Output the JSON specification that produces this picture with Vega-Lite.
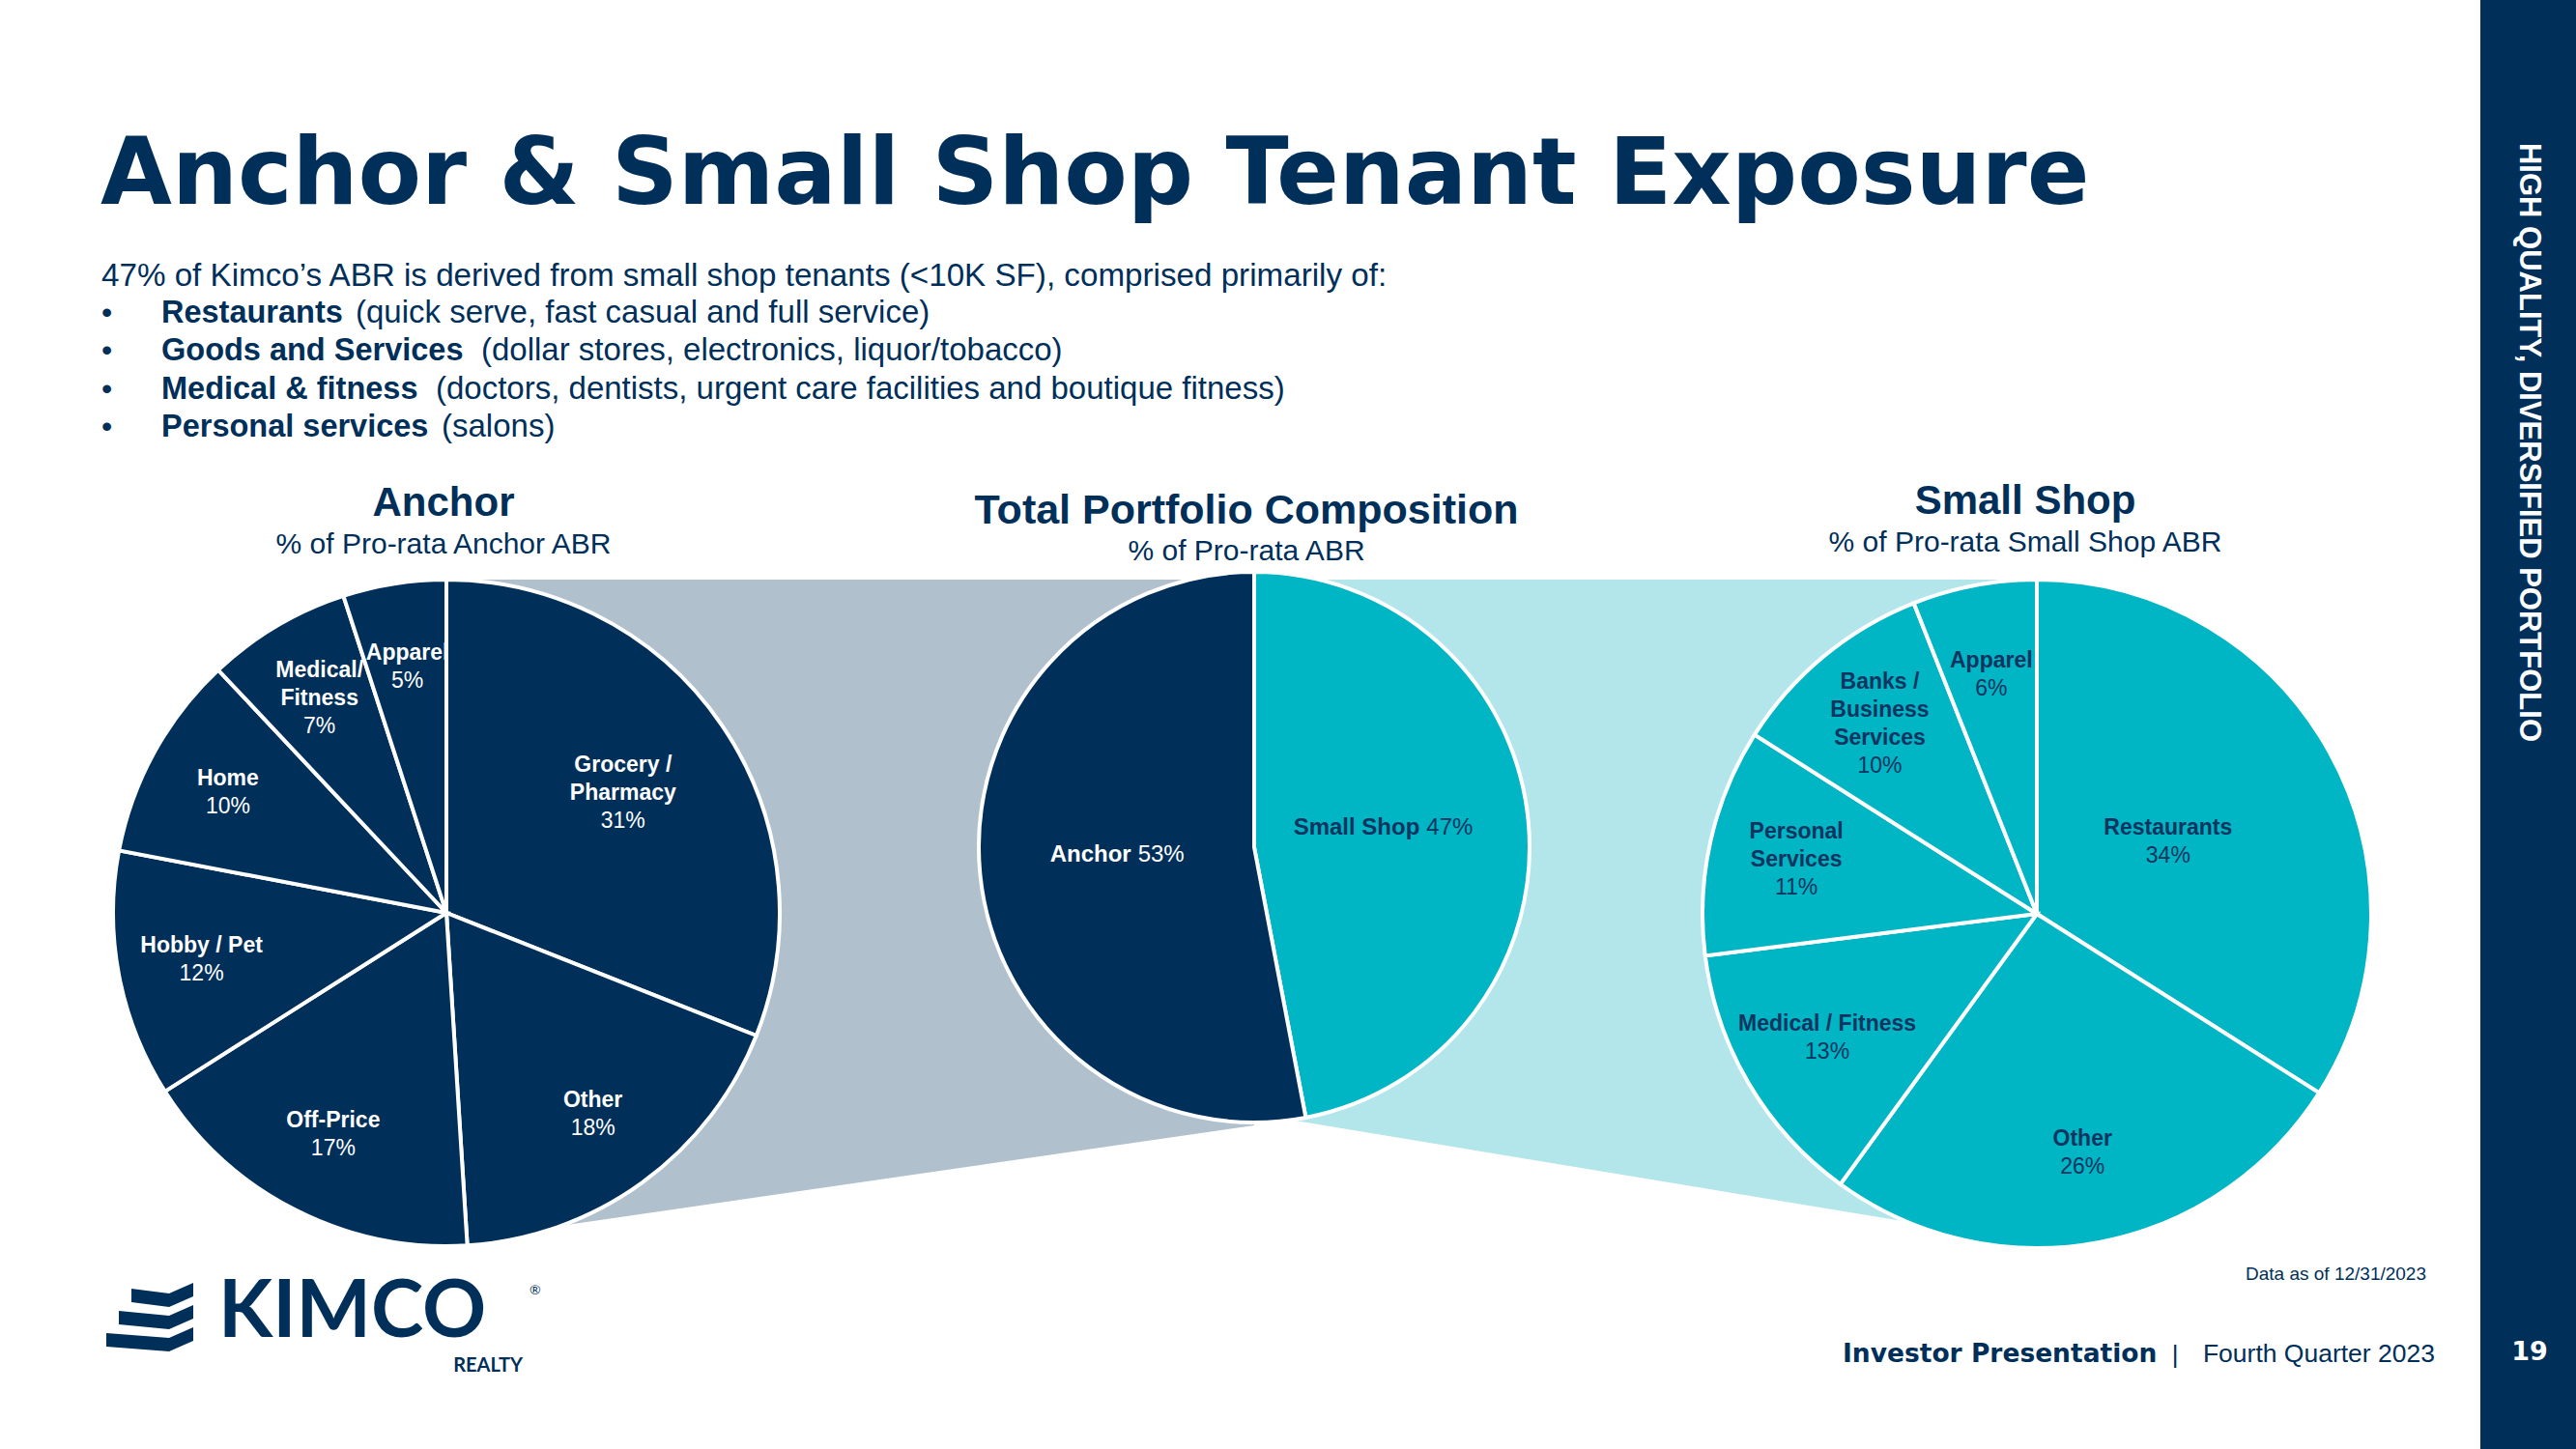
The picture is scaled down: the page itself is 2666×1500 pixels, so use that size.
{
  "$schema": "https://vega.github.io/schema/vega-lite/v6.json",
  "width": 2666,
  "height": 1500,
  "autosize": {"type": "fit", "contains": "padding"},
  "padding": 0,
  "background": "white",
  "config": {"view": {"stroke": null}, "axis": {"disable": true}},
  "datasets": {
    "anchor": [
      {"name": "Grocery /\nPharmacy", "v": 0.31, "rank": 1},
      {"name": "Other", "v": 0.18, "rank": 2},
      {"name": "Off-Price", "v": 0.17, "rank": 3},
      {"name": "Hobby / Pet", "v": 0.12, "rank": 4},
      {"name": "Home", "v": 0.10, "rank": 5},
      {"name": "Medical/\nFitness", "v": 0.07, "rank": 6},
      {"name": "Apparel", "v": 0.05, "rank": 7}
    ],
    "total": [
      {"name": "Small Shop", "v": 0.47, "rank": 1},
      {"name": "Anchor", "v": 0.53, "rank": 2}
    ],
    "small": [
      {"name": "Restaurants", "v": 0.34, "rank": 1},
      {"name": "Other", "v": 0.26, "rank": 2},
      {"name": "Medical / Fitness", "v": 0.13, "rank": 3},
      {"name": "Personal\nServices", "v": 0.11, "rank": 4},
      {"name": "Banks /\nBusiness\nServices", "v": 0.10, "rank": 5},
      {"name": "Apparel", "v": 0.06, "rank": 6}
    ]
  },
  "data": {"values": [{}]},
  "layer": [
    {
      "mark": {"type": "rect", "color": "#002F5A"},
      "encoding": {
        "x": {"datum": 12.835, "type": "quantitative", "scale": {"domain": [0, 13.33], "nice": false, "zero": false}},
        "x2": {"datum": 13.33},
        "y": {"datum": 0, "type": "quantitative", "scale": {"domain": [0, 7.5], "nice": false, "zero": false, "reverse": true}},
        "y2": {"datum": 7.5}
      }
    },
    {
      "mark": {"type": "point", "shape": "M -1 -0.8206 L 1 -0.8206 L 1 0.5311 L -1 0.8206 Z", "size": 698896, "filled": true, "opacity": 1, "color": "#B0C0CC", "strokeWidth": 0},
      "encoding": {
        "x": {"datum": 4.4, "type": "quantitative", "scale": {"domain": [0, 13.33], "nice": false, "zero": false}},
        "y": {"datum": 4.715, "type": "quantitative", "scale": {"domain": [0, 7.5], "nice": false, "zero": false, "reverse": true}}
      }
    },
    {
      "mark": {"type": "point", "shape": "M -1 -0.8481 L 1 -0.8481 L 1 0.8481 L -1 0.5173 Z", "size": 656100, "filled": true, "opacity": 1, "color": "#B2E6EB", "strokeWidth": 0},
      "encoding": {
        "x": {"datum": 8.515, "type": "quantitative", "scale": {"domain": [0, 13.33], "nice": false, "zero": false}},
        "y": {"datum": 4.7175, "type": "quantitative", "scale": {"domain": [0, 7.5], "nice": false, "zero": false, "reverse": true}}
      }
    },
    {
      "data": {"name": "anchor"},
      "mark": {"type": "arc", "outerRadius": 345, "x": {"expr": "scale('x', 2.31)"}, "y": {"expr": "scale('y', 4.725)"}, "fill": "#002F5A", "stroke": "white", "strokeWidth": 4},
      "encoding": {
        "theta": {"field": "v", "type": "quantitative", "stack": true},
        "order": {"field": "rank", "type": "quantitative"},
        "detail": {"field": "name"}
      }
    },
    {
      "data": {"name": "total"},
      "mark": {"type": "arc", "outerRadius": 285, "x": {"expr": "scale('x', 6.49)"}, "y": {"expr": "scale('y', 4.385)"}, "stroke": "white", "strokeWidth": 4},
      "encoding": {
        "theta": {"field": "v", "type": "quantitative", "stack": true},
        "order": {"field": "rank", "type": "quantitative"},
        "detail": {"field": "name"},
        "color": {"condition": {"test": "datum.name == 'Anchor'", "value": "#002F5A"}, "value": "#00B5C4"}
      }
    },
    {
      "data": {"name": "small"},
      "mark": {"type": "arc", "outerRadius": 346, "x": {"expr": "scale('x', 10.54)"}, "y": {"expr": "scale('y', 4.73)"}, "fill": "#00B5C4", "stroke": "white", "strokeWidth": 4},
      "encoding": {
        "theta": {"field": "v", "type": "quantitative", "stack": true},
        "order": {"field": "rank", "type": "quantitative"},
        "detail": {"field": "name"}
      }
    },
    {
      "data": {"name": "anchor"},
      "mark": {"type": "text", "x": {"expr": "scale('x', 2.31)"}, "y": {"expr": "scale('y', 4.725)"}, "radius": 258, "font": "Liberation Sans", "fontSize": 23, "fontWeight": "bold", "color": "white", "lineBreak": "\n", "lineHeight": 29, "align": "center", "baseline": "middle", "dy": -14.5},
      "encoding": {
        "theta": {"field": "v", "type": "quantitative", "stack": true},
        "order": {"field": "rank", "type": "quantitative"},
        "detail": {"field": "name"},
        "text": {"condition": {"test": "indexof(datum.name, '\\n') < 0 && datum.v <= 0.3", "field": "name", "type": "nominal"}, "value": ""}
      }
    },
    {
      "data": {"name": "anchor"},
      "mark": {"type": "text", "x": {"expr": "scale('x', 2.31)"}, "y": {"expr": "scale('y', 4.725)"}, "radius": 258, "font": "Liberation Sans", "fontSize": 23, "fontWeight": "bold", "color": "white", "lineBreak": "\n", "lineHeight": 29, "align": "center", "baseline": "middle", "dy": -29},
      "encoding": {
        "theta": {"field": "v", "type": "quantitative", "stack": true},
        "order": {"field": "rank", "type": "quantitative"},
        "detail": {"field": "name"},
        "text": {"condition": {"test": "indexof(datum.name, '\\n') >= 0 && datum.v <= 0.3", "field": "name", "type": "nominal"}, "value": ""}
      }
    },
    {
      "data": {"name": "anchor"},
      "mark": {"type": "text", "x": {"expr": "scale('x', 2.31)"}, "y": {"expr": "scale('y', 4.725)"}, "radius": 221, "font": "Liberation Sans", "fontSize": 23, "fontWeight": "bold", "color": "white", "lineBreak": "\n", "lineHeight": 29, "align": "center", "baseline": "middle", "dy": -29},
      "encoding": {
        "theta": {"field": "v", "type": "quantitative", "stack": true},
        "order": {"field": "rank", "type": "quantitative"},
        "detail": {"field": "name"},
        "text": {"condition": {"test": "indexof(datum.name, '\\n') >= 0 && datum.v > 0.3", "field": "name", "type": "nominal"}, "value": ""}
      }
    },
    {
      "data": {"name": "anchor"},
      "mark": {"type": "text", "x": {"expr": "scale('x', 2.31)"}, "y": {"expr": "scale('y', 4.725)"}, "radius": 258, "font": "Liberation Sans", "fontSize": 23, "color": "white", "align": "center", "baseline": "middle", "dy": 14.5},
      "encoding": {
        "theta": {"field": "v", "type": "quantitative", "stack": true},
        "order": {"field": "rank", "type": "quantitative"},
        "detail": {"field": "name"},
        "text": {"condition": {"test": "indexof(datum.name, '\\n') < 0 && datum.v <= 0.3", "field": "v", "type": "quantitative", "format": ".0%"}, "value": ""}
      }
    },
    {
      "data": {"name": "anchor"},
      "mark": {"type": "text", "x": {"expr": "scale('x', 2.31)"}, "y": {"expr": "scale('y', 4.725)"}, "radius": 258, "font": "Liberation Sans", "fontSize": 23, "color": "white", "align": "center", "baseline": "middle", "dy": 29},
      "encoding": {
        "theta": {"field": "v", "type": "quantitative", "stack": true},
        "order": {"field": "rank", "type": "quantitative"},
        "detail": {"field": "name"},
        "text": {"condition": {"test": "indexof(datum.name, '\\n') >= 0 && datum.v <= 0.3", "field": "v", "type": "quantitative", "format": ".0%"}, "value": ""}
      }
    },
    {
      "data": {"name": "anchor"},
      "mark": {"type": "text", "x": {"expr": "scale('x', 2.31)"}, "y": {"expr": "scale('y', 4.725)"}, "radius": 221, "font": "Liberation Sans", "fontSize": 23, "color": "white", "align": "center", "baseline": "middle", "dy": 29},
      "encoding": {
        "theta": {"field": "v", "type": "quantitative", "stack": true},
        "order": {"field": "rank", "type": "quantitative"},
        "detail": {"field": "name"},
        "text": {"condition": {"test": "indexof(datum.name, '\\n') >= 0 && datum.v > 0.3", "field": "v", "type": "quantitative", "format": ".0%"}, "value": ""}
      }
    },
    {
      "data": {"name": "small"},
      "mark": {"type": "text", "x": {"expr": "scale('x', 10.54)"}, "y": {"expr": "scale('y', 4.73)"}, "radius": 252, "font": "Liberation Sans", "fontSize": 23, "fontWeight": "bold", "color": "#0F3460", "lineBreak": "\n", "lineHeight": 29, "align": "center", "baseline": "middle", "dy": -14.5},
      "encoding": {
        "theta": {"field": "v", "type": "quantitative", "stack": true},
        "order": {"field": "rank", "type": "quantitative"},
        "detail": {"field": "name"},
        "text": {"condition": {"test": "indexof(datum.name, '\\n') < 0 && datum.v <= 0.3", "field": "name", "type": "nominal"}, "value": ""}
      }
    },
    {
      "data": {"name": "small"},
      "mark": {"type": "text", "x": {"expr": "scale('x', 10.54)"}, "y": {"expr": "scale('y', 4.73)"}, "radius": 155, "font": "Liberation Sans", "fontSize": 23, "fontWeight": "bold", "color": "#0F3460", "lineBreak": "\n", "lineHeight": 29, "align": "center", "baseline": "middle", "dy": -14.5},
      "encoding": {
        "theta": {"field": "v", "type": "quantitative", "stack": true},
        "order": {"field": "rank", "type": "quantitative"},
        "detail": {"field": "name"},
        "text": {"condition": {"test": "indexof(datum.name, '\\n') < 0 && datum.v > 0.3", "field": "name", "type": "nominal"}, "value": ""}
      }
    },
    {
      "data": {"name": "small"},
      "mark": {"type": "text", "x": {"expr": "scale('x', 10.54)"}, "y": {"expr": "scale('y', 4.73)"}, "radius": 255, "font": "Liberation Sans", "fontSize": 23, "fontWeight": "bold", "color": "#0F3460", "lineBreak": "\n", "lineHeight": 29, "align": "center", "baseline": "middle", "dy": -29},
      "encoding": {
        "theta": {"field": "v", "type": "quantitative", "stack": true},
        "order": {"field": "rank", "type": "quantitative"},
        "detail": {"field": "name"},
        "text": {"condition": {"test": "indexof(datum.name, '\\n') >= 0 && indexof(datum.name, '\\n') == lastindexof(datum.name, '\\n')", "field": "name", "type": "nominal"}, "value": ""}
      }
    },
    {
      "data": {"name": "small"},
      "mark": {"type": "text", "x": {"expr": "scale('x', 10.54)"}, "y": {"expr": "scale('y', 4.73)"}, "radius": 255, "font": "Liberation Sans", "fontSize": 23, "fontWeight": "bold", "color": "#0F3460", "lineBreak": "\n", "lineHeight": 29, "align": "center", "baseline": "middle", "dy": -43.5},
      "encoding": {
        "theta": {"field": "v", "type": "quantitative", "stack": true},
        "order": {"field": "rank", "type": "quantitative"},
        "detail": {"field": "name"},
        "text": {"condition": {"test": "indexof(datum.name, '\\n') != lastindexof(datum.name, '\\n')", "field": "name", "type": "nominal"}, "value": ""}
      }
    },
    {
      "data": {"name": "small"},
      "mark": {"type": "text", "x": {"expr": "scale('x', 10.54)"}, "y": {"expr": "scale('y', 4.73)"}, "radius": 252, "font": "Liberation Sans", "fontSize": 23, "color": "#0F3460", "align": "center", "baseline": "middle", "dy": 14.5},
      "encoding": {
        "theta": {"field": "v", "type": "quantitative", "stack": true},
        "order": {"field": "rank", "type": "quantitative"},
        "detail": {"field": "name"},
        "text": {"condition": {"test": "indexof(datum.name, '\\n') < 0 && datum.v <= 0.3", "field": "v", "type": "quantitative", "format": ".0%"}, "value": ""}
      }
    },
    {
      "data": {"name": "small"},
      "mark": {"type": "text", "x": {"expr": "scale('x', 10.54)"}, "y": {"expr": "scale('y', 4.73)"}, "radius": 155, "font": "Liberation Sans", "fontSize": 23, "color": "#0F3460", "align": "center", "baseline": "middle", "dy": 14.5},
      "encoding": {
        "theta": {"field": "v", "type": "quantitative", "stack": true},
        "order": {"field": "rank", "type": "quantitative"},
        "detail": {"field": "name"},
        "text": {"condition": {"test": "indexof(datum.name, '\\n') < 0 && datum.v > 0.3", "field": "v", "type": "quantitative", "format": ".0%"}, "value": ""}
      }
    },
    {
      "data": {"name": "small"},
      "mark": {"type": "text", "x": {"expr": "scale('x', 10.54)"}, "y": {"expr": "scale('y', 4.73)"}, "radius": 255, "font": "Liberation Sans", "fontSize": 23, "color": "#0F3460", "align": "center", "baseline": "middle", "dy": 29},
      "encoding": {
        "theta": {"field": "v", "type": "quantitative", "stack": true},
        "order": {"field": "rank", "type": "quantitative"},
        "detail": {"field": "name"},
        "text": {"condition": {"test": "indexof(datum.name, '\\n') >= 0 && indexof(datum.name, '\\n') == lastindexof(datum.name, '\\n')", "field": "v", "type": "quantitative", "format": ".0%"}, "value": ""}
      }
    },
    {
      "data": {"name": "small"},
      "mark": {"type": "text", "x": {"expr": "scale('x', 10.54)"}, "y": {"expr": "scale('y', 4.73)"}, "radius": 255, "font": "Liberation Sans", "fontSize": 23, "color": "#0F3460", "align": "center", "baseline": "middle", "dy": 43.5},
      "encoding": {
        "theta": {"field": "v", "type": "quantitative", "stack": true},
        "order": {"field": "rank", "type": "quantitative"},
        "detail": {"field": "name"},
        "text": {"condition": {"test": "indexof(datum.name, '\\n') != lastindexof(datum.name, '\\n')", "field": "v", "type": "quantitative", "format": ".0%"}, "value": ""}
      }
    },
    {
      "data": {"name": "total"},
      "mark": {"type": "text", "x": {"expr": "scale('x', 6.49)"}, "y": {"expr": "scale('y', 4.385)"}, "radius": 150, "font": "Liberation Sans", "fontSize": 24, "fontWeight": "bold", "align": "right", "baseline": "middle", "dx": 22, "dy": -6},
      "encoding": {
        "theta": {"field": "v", "type": "quantitative", "stack": true},
        "order": {"field": "rank", "type": "quantitative"},
        "detail": {"field": "name"},
        "text": {"field": "name"},
        "color": {"condition": {"test": "datum.name == 'Anchor'", "value": "white"}, "value": "#0F3460"}
      }
    },
    {
      "data": {"name": "total"},
      "mark": {"type": "text", "x": {"expr": "scale('x', 6.49)"}, "y": {"expr": "scale('y', 4.385)"}, "radius": 150, "font": "Liberation Sans", "fontSize": 24, "align": "left", "baseline": "middle", "dx": 29, "dy": -6},
      "encoding": {
        "theta": {"field": "v", "type": "quantitative", "stack": true},
        "order": {"field": "rank", "type": "quantitative"},
        "detail": {"field": "name"},
        "text": {"field": "v", "type": "quantitative", "format": ".0%"},
        "color": {"condition": {"test": "datum.name == 'Anchor'", "value": "white"}, "value": "#0F3460"}
      }
    },
    {
      "mark": {"type": "text", "text": "Anchor & Small Shop Tenant Exposure", "font": "DejaVu Sans", "fontWeight": "bold", "fontSize": 95.5, "color": "#002F5A", "align": "left", "baseline": "alphabetic"},
      "encoding": {
        "x": {"datum": 0.52, "type": "quantitative", "scale": {"domain": [0, 13.33], "nice": false, "zero": false}},
        "y": {"datum": 1.055, "type": "quantitative", "scale": {"domain": [0, 7.5], "nice": false, "zero": false, "reverse": true}}
      }
    },
    {
      "mark": {"type": "text", "text": "47% of Kimco’s ABR is derived from small shop tenants (<10K SF), comprised primarily of:", "font": "Liberation Sans", "fontSize": 33.2, "color": "#002F5A", "align": "left", "baseline": "alphabetic"},
      "encoding": {
        "x": {"datum": 0.525, "type": "quantitative", "scale": {"domain": [0, 13.33], "nice": false, "zero": false}},
        "y": {"datum": 1.48, "type": "quantitative", "scale": {"domain": [0, 7.5], "nice": false, "zero": false, "reverse": true}}
      }
    },
    {
      "mark": {"type": "text", "text": ["•", "•", "•", "•"], "font": "Liberation Sans", "fontSize": 32, "lineHeight": 39.3, "color": "#002F5A", "align": "left", "baseline": "alphabetic"},
      "encoding": {
        "x": {"datum": 0.525, "type": "quantitative", "scale": {"domain": [0, 13.33], "nice": false, "zero": false}},
        "y": {"datum": 1.67, "type": "quantitative", "scale": {"domain": [0, 7.5], "nice": false, "zero": false, "reverse": true}}
      }
    },
    {
      "mark": {"type": "text", "text": ["Restaurants", "Goods and Services", "Medical & fitness", "Personal services"], "font": "Liberation Sans", "fontWeight": "bold", "fontSize": 32.5, "lineHeight": 39.3, "color": "#002F5A", "align": "left", "baseline": "alphabetic"},
      "encoding": {
        "x": {"datum": 0.835, "type": "quantitative", "scale": {"domain": [0, 13.33], "nice": false, "zero": false}},
        "y": {"datum": 1.67, "type": "quantitative", "scale": {"domain": [0, 7.5], "nice": false, "zero": false, "reverse": true}}
      }
    },
    {
      "mark": {"type": "text", "text": "(quick serve, fast casual and full service)", "font": "Liberation Sans", "fontSize": 33, "color": "#002F5A", "align": "left", "baseline": "alphabetic"},
      "encoding": {
        "x": {"datum": 1.84, "type": "quantitative", "scale": {"domain": [0, 13.33], "nice": false, "zero": false}},
        "y": {"datum": 1.67, "type": "quantitative", "scale": {"domain": [0, 7.5], "nice": false, "zero": false, "reverse": true}}
      }
    },
    {
      "mark": {"type": "text", "text": "(dollar stores, electronics, liquor/tobacco)", "font": "Liberation Sans", "fontSize": 33, "color": "#002F5A", "align": "left", "baseline": "alphabetic"},
      "encoding": {
        "x": {"datum": 2.49, "type": "quantitative", "scale": {"domain": [0, 13.33], "nice": false, "zero": false}},
        "y": {"datum": 1.8665, "type": "quantitative", "scale": {"domain": [0, 7.5], "nice": false, "zero": false, "reverse": true}}
      }
    },
    {
      "mark": {"type": "text", "text": "(doctors, dentists, urgent care facilities and boutique fitness)", "font": "Liberation Sans", "fontSize": 33, "color": "#002F5A", "align": "left", "baseline": "alphabetic"},
      "encoding": {
        "x": {"datum": 2.255, "type": "quantitative", "scale": {"domain": [0, 13.33], "nice": false, "zero": false}},
        "y": {"datum": 2.063, "type": "quantitative", "scale": {"domain": [0, 7.5], "nice": false, "zero": false, "reverse": true}}
      }
    },
    {
      "mark": {"type": "text", "text": "(salons)", "font": "Liberation Sans", "fontSize": 33, "color": "#002F5A", "align": "left", "baseline": "alphabetic"},
      "encoding": {
        "x": {"datum": 2.285, "type": "quantitative", "scale": {"domain": [0, 13.33], "nice": false, "zero": false}},
        "y": {"datum": 2.2595, "type": "quantitative", "scale": {"domain": [0, 7.5], "nice": false, "zero": false, "reverse": true}}
      }
    },
    {
      "mark": {"type": "text", "text": "Anchor", "font": "Liberation Sans", "fontWeight": "bold", "fontSize": 42, "color": "#002F5A", "align": "center", "baseline": "alphabetic"},
      "encoding": {
        "x": {"datum": 2.295, "type": "quantitative", "scale": {"domain": [0, 13.33], "nice": false, "zero": false}},
        "y": {"datum": 2.67, "type": "quantitative", "scale": {"domain": [0, 7.5], "nice": false, "zero": false, "reverse": true}}
      }
    },
    {
      "mark": {"type": "text", "text": "% of Pro-rata Anchor ABR", "font": "Liberation Sans", "fontSize": 30, "color": "#002F5A", "align": "center", "baseline": "alphabetic"},
      "encoding": {
        "x": {"datum": 2.295, "type": "quantitative", "scale": {"domain": [0, 13.33], "nice": false, "zero": false}},
        "y": {"datum": 2.865, "type": "quantitative", "scale": {"domain": [0, 7.5], "nice": false, "zero": false, "reverse": true}}
      }
    },
    {
      "mark": {"type": "text", "text": "Total Portfolio Composition", "font": "Liberation Sans", "fontWeight": "bold", "fontSize": 43, "color": "#002F5A", "align": "center", "baseline": "alphabetic"},
      "encoding": {
        "x": {"datum": 6.45, "type": "quantitative", "scale": {"domain": [0, 13.33], "nice": false, "zero": false}},
        "y": {"datum": 2.71, "type": "quantitative", "scale": {"domain": [0, 7.5], "nice": false, "zero": false, "reverse": true}}
      }
    },
    {
      "mark": {"type": "text", "text": "% of Pro-rata ABR", "font": "Liberation Sans", "fontSize": 30, "color": "#002F5A", "align": "center", "baseline": "alphabetic"},
      "encoding": {
        "x": {"datum": 6.45, "type": "quantitative", "scale": {"domain": [0, 13.33], "nice": false, "zero": false}},
        "y": {"datum": 2.9, "type": "quantitative", "scale": {"domain": [0, 7.5], "nice": false, "zero": false, "reverse": true}}
      }
    },
    {
      "mark": {"type": "text", "text": "Small Shop", "font": "Liberation Sans", "fontWeight": "bold", "fontSize": 42, "color": "#002F5A", "align": "center", "baseline": "alphabetic"},
      "encoding": {
        "x": {"datum": 10.48, "type": "quantitative", "scale": {"domain": [0, 13.33], "nice": false, "zero": false}},
        "y": {"datum": 2.66, "type": "quantitative", "scale": {"domain": [0, 7.5], "nice": false, "zero": false, "reverse": true}}
      }
    },
    {
      "mark": {"type": "text", "text": "% of Pro-rata Small Shop ABR", "font": "Liberation Sans", "fontSize": 30, "color": "#002F5A", "align": "center", "baseline": "alphabetic"},
      "encoding": {
        "x": {"datum": 10.48, "type": "quantitative", "scale": {"domain": [0, 13.33], "nice": false, "zero": false}},
        "y": {"datum": 2.855, "type": "quantitative", "scale": {"domain": [0, 7.5], "nice": false, "zero": false, "reverse": true}}
      }
    },
    {
      "mark": {"type": "text", "text": "Data as of 12/31/2023", "font": "Liberation Sans", "fontSize": 19, "color": "#002F5A", "align": "right", "baseline": "alphabetic"},
      "encoding": {
        "x": {"datum": 12.555, "type": "quantitative", "scale": {"domain": [0, 13.33], "nice": false, "zero": false}},
        "y": {"datum": 6.625, "type": "quantitative", "scale": {"domain": [0, 7.5], "nice": false, "zero": false, "reverse": true}}
      }
    },
    {
      "mark": {"type": "text", "text": "Investor Presentation", "font": "DejaVu Sans", "fontWeight": "bold", "fontSize": 26.5, "color": "#002F5A", "align": "left", "baseline": "alphabetic"},
      "encoding": {
        "x": {"datum": 9.535, "type": "quantitative", "scale": {"domain": [0, 13.33], "nice": false, "zero": false}},
        "y": {"datum": 7.05, "type": "quantitative", "scale": {"domain": [0, 7.5], "nice": false, "zero": false, "reverse": true}}
      }
    },
    {
      "mark": {"type": "text", "text": "|", "font": "Liberation Sans", "fontSize": 26, "color": "#002F5A", "align": "center", "baseline": "alphabetic"},
      "encoding": {
        "x": {"datum": 11.255, "type": "quantitative", "scale": {"domain": [0, 13.33], "nice": false, "zero": false}},
        "y": {"datum": 7.055, "type": "quantitative", "scale": {"domain": [0, 7.5], "nice": false, "zero": false, "reverse": true}}
      }
    },
    {
      "mark": {"type": "text", "text": "Fourth Quarter 2023", "font": "Liberation Sans", "fontSize": 26.5, "color": "#002F5A", "align": "right", "baseline": "alphabetic"},
      "encoding": {
        "x": {"datum": 12.6, "type": "quantitative", "scale": {"domain": [0, 13.33], "nice": false, "zero": false}},
        "y": {"datum": 7.05, "type": "quantitative", "scale": {"domain": [0, 7.5], "nice": false, "zero": false, "reverse": true}}
      }
    },
    {
      "mark": {"type": "text", "text": "19", "font": "DejaVu Sans", "fontWeight": "bold", "fontSize": 27, "color": "white", "align": "center", "baseline": "alphabetic"},
      "encoding": {
        "x": {"datum": 13.09, "type": "quantitative", "scale": {"domain": [0, 13.33], "nice": false, "zero": false}},
        "y": {"datum": 7.04, "type": "quantitative", "scale": {"domain": [0, 7.5], "nice": false, "zero": false, "reverse": true}}
      }
    },
    {
      "mark": {"type": "text", "text": "HIGH QUALITY, DIVERSIFIED PORTFOLIO", "font": "Liberation Sans", "fontWeight": "bold", "fontSize": 31, "color": "white", "angle": 90, "align": "center", "baseline": "middle"},
      "encoding": {
        "x": {"datum": 13.085, "type": "quantitative", "scale": {"domain": [0, 13.33], "nice": false, "zero": false}},
        "y": {"datum": 2.29, "type": "quantitative", "scale": {"domain": [0, 7.5], "nice": false, "zero": false, "reverse": true}}
      }
    },
    {
      "mark": {"type": "point", "shape": "M -0.42 -0.54 L 0.36 -0.44 L 0.86 -0.66 L 0.86 -0.38 L 0.36 -0.16 L -0.42 -0.26 Z M -0.68 -0.08 L 0.36 0.02 L 0.86 -0.2 L 0.86 0.08 L 0.36 0.3 L -0.68 0.2 Z M -0.94 0.38 L 0.36 0.48 L 0.86 0.26 L 0.86 0.54 L 0.36 0.76 L -0.94 0.66 Z", "size": 10000, "filled": true, "opacity": 1, "color": "#002F5A", "strokeWidth": 0},
      "encoding": {
        "x": {"datum": 0.785, "type": "quantitative", "scale": {"domain": [0, 13.33], "nice": false, "zero": false}},
        "y": {"datum": 6.805, "type": "quantitative", "scale": {"domain": [0, 7.5], "nice": false, "zero": false, "reverse": true}}
      }
    },
    {
      "mark": {"type": "text", "text": "KIMCO", "font": "Lato", "fontWeight": "bold", "fontSize": 82, "color": "#002F5A", "align": "left", "baseline": "alphabetic"},
      "encoding": {
        "x": {"datum": 1.13, "type": "quantitative", "scale": {"domain": [0, 13.33], "nice": false, "zero": false}},
        "y": {"datum": 6.92, "type": "quantitative", "scale": {"domain": [0, 7.5], "nice": false, "zero": false, "reverse": true}}
      }
    },
    {
      "mark": {"type": "text", "text": "REALTY", "font": "Lato", "fontWeight": "bold", "fontSize": 20, "color": "#002F5A", "align": "right", "baseline": "alphabetic"},
      "encoding": {
        "x": {"datum": 2.705, "type": "quantitative", "scale": {"domain": [0, 13.33], "nice": false, "zero": false}},
        "y": {"datum": 7.1, "type": "quantitative", "scale": {"domain": [0, 7.5], "nice": false, "zero": false, "reverse": true}}
      }
    },
    {
      "mark": {"type": "text", "text": "®", "font": "Lato", "fontSize": 14, "color": "#002F5A", "align": "left", "baseline": "alphabetic"},
      "encoding": {
        "x": {"datum": 2.74, "type": "quantitative", "scale": {"domain": [0, 13.33], "nice": false, "zero": false}},
        "y": {"datum": 6.7, "type": "quantitative", "scale": {"domain": [0, 7.5], "nice": false, "zero": false, "reverse": true}}
      }
    }
  ]
}
